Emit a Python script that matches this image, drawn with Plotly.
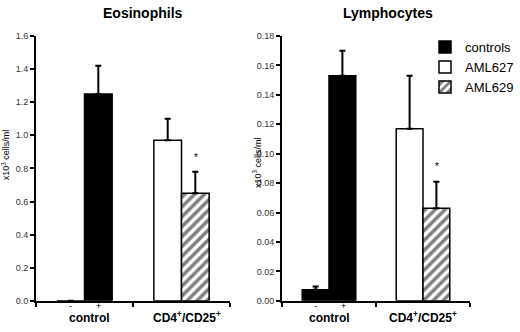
import plotly.graph_objects as go

# ---------------- data ----------------
categories = ["control", "CD4⁺/CD25⁺"]
control_sub = ["-", "+"]

# Eosinophils (x10^3 cells/ml)
eos_controls = [0.0, 1.25]        # control -, control +
eos_controls_err = [0.0, 0.17]
eos_aml627 = [0.97]
eos_aml627_err = [0.13]
eos_aml629 = [0.65]
eos_aml629_err = [0.13]

# Lymphocytes (x10^3 cells/ml)
lym_controls = [0.0075, 0.153]
lym_controls_err = [0.0022, 0.017]
lym_aml627 = [0.117]
lym_aml627_err = [0.036]
lym_aml629 = [0.063]
lym_aml629_err = [0.018]

FONT = "Liberation Sans, Arial, sans-serif"
W, H = 520, 332


def err(vals):
    return dict(type="data", array=vals, arrayminus=[0] * len(vals), symmetric=False,
                color="black", thickness=2, width=3)


fig = go.Figure()


def add_panel(xa, ya, controls, controls_err, a627, a627_err, a629, a629_err, legend):
    line = dict(color="black", width=1.5)
    fig.add_trace(go.Bar(x=[categories[0]], y=[controls[0]], error_y=err([controls_err[0]]),
                         offsetgroup="a", marker=dict(color="black", line=line),
                         name="controls", legendgroup="controls", showlegend=False,
                         xaxis=xa, yaxis=ya))
    fig.add_trace(go.Bar(x=[categories[0]], y=[controls[1]], error_y=err([controls_err[1]]),
                         offsetgroup="b", marker=dict(color="black", line=line),
                         name="controls", legendgroup="controls", showlegend=legend,
                         legendrank=1, xaxis=xa, yaxis=ya))
    fig.add_trace(go.Bar(x=[categories[1]], y=a627, error_y=err(a627_err),
                         offsetgroup="a", marker=dict(color="white", line=line),
                         name="AML627", legendgroup="AML627", showlegend=legend,
                         legendrank=2, xaxis=xa, yaxis=ya))
    fig.add_trace(go.Bar(x=[categories[1]], y=a629, error_y=err(a629_err),
                         offsetgroup="b",
                         marker=dict(color="white", line=line,
                                     pattern=dict(shape="/", fgcolor="black", bgcolor="white",
                                                  size=7, solidity=0.5)),
                         name="AML629", legendgroup="AML629", showlegend=legend,
                         legendrank=3, xaxis=xa, yaxis=ya))


add_panel("x", "y", eos_controls, eos_controls_err, eos_aml627, eos_aml627_err,
          eos_aml629, eos_aml629_err, False)
add_panel("x2", "y2", lym_controls, lym_controls_err, lym_aml627, lym_aml627_err,
          lym_aml629, lym_aml629_err, True)

y_dom = [1 - 305 / H, 1 - 32 / H]
common_x = dict(type="category", showticklabels=False, ticks="outside", tickson="boundaries",
                ticklen=4, tickwidth=1.5, tickcolor="black", showline=True, linewidth=2,
                linecolor="black", showgrid=False, zeroline=False, fixedrange=True)
common_y = dict(ticks="outside", ticklen=4, tickwidth=1.5, tickcolor="black", showline=True,
                linewidth=2, linecolor="black", showgrid=False, zeroline=False,
                tickfont=dict(family=FONT, size=9, color="#333"), domain=y_dom,
                fixedrange=True)

fig.update_layout(
    width=W, height=H,
    margin=dict(l=0, r=0, t=0, b=0),
    paper_bgcolor="white", plot_bgcolor="white",
    barmode="group", bargap=0.43, bargroupgap=0,
    font=dict(family=FONT, color="black"),
    xaxis=dict(common_x, domain=[36 / W, 230 / W], anchor="y"),
    xaxis2=dict(common_x, domain=[282 / W, 470 / W], anchor="y2"),
    yaxis=dict(common_y, range=[0, 1.6], dtick=0.2, tickformat=".1f", anchor="x"),
    yaxis2=dict(common_y, range=[0, 0.18], dtick=0.02, tickformat=".2f", anchor="x2"),
    legend=dict(x=425 / W, y=1 - 28 / H, xanchor="left", yanchor="top",
                font=dict(family=FONT, size=13, color="black"),
                bgcolor="rgba(0,0,0,0)", tracegroupgap=0, traceorder="normal"),
    showlegend=True,
)

ann = []
# panel titles
ann.append(dict(text="<b>Eosinophils</b>", xref="paper", yref="paper", x=143 / W, y=1 - 8 / H,
                xanchor="center", yanchor="middle", showarrow=False, font=dict(size=14)))
ann.append(dict(text="<b>Lymphocytes</b>", xref="paper", yref="paper", x=388 / W, y=1 - 8 / H,
                xanchor="center", yanchor="middle", showarrow=False, font=dict(size=14)))
# y titles
ann.append(dict(text="x10<sup>3</sup> cells/ml", xref="paper", yref="paper", x=6 / W,
                y=1 - 155 / H, xanchor="center", yanchor="middle", textangle=-90,
                showarrow=False, font=dict(size=9)))
ann.append(dict(text="x10<sup>3</sup> cells/ml", xref="paper", yref="paper", x=257 / W,
                y=1 - 163 / H, xanchor="center", yanchor="middle", textangle=-90,
                showarrow=False, font=dict(size=9)))
# x labels
for xr, shift_c in (("x", 5), ("x2", 0)):
    for lab, sh in zip(control_sub, (-14, 14)):
        ann.append(dict(text=lab, xref=xr, yref="paper", x=categories[0], xshift=sh,
                        y=1 - 310.5 / H, xanchor="center", yanchor="middle",
                        showarrow=False, font=dict(size=9)))
    ann.append(dict(text="<b>control</b>", xref=xr, yref="paper", x=categories[0], xshift=shift_c,
                    y=0, xanchor="center", yanchor="bottom", showarrow=False, font=dict(size=12)))
    ann.append(dict(text="<b>CD4<sup>+</sup>/CD25<sup>+</sup></b>", xref=xr, yref="paper",
                    x=categories[1], xshift=shift_c, y=0, xanchor="center", yanchor="bottom",
                    showarrow=False, font=dict(size=12)))
# significance stars
ann.append(dict(text="*", xref="x", yref="y", x=categories[1], xshift=14,
                y=eos_aml629[0] + eos_aml629_err[0], yanchor="bottom", yshift=7,
                showarrow=False, font=dict(size=10)))
ann.append(dict(text="*", xref="x2", yref="y2", x=categories[1], xshift=14,
                y=lym_aml629[0] + lym_aml629_err[0], yanchor="bottom", yshift=8,
                showarrow=False, font=dict(size=10)))
fig.update_layout(annotations=ann)

fig.write_html("out.html", config={"displayModeBar": False},
               post_script="document.body.style.margin='0';document.body.style.overflow='hidden';")
